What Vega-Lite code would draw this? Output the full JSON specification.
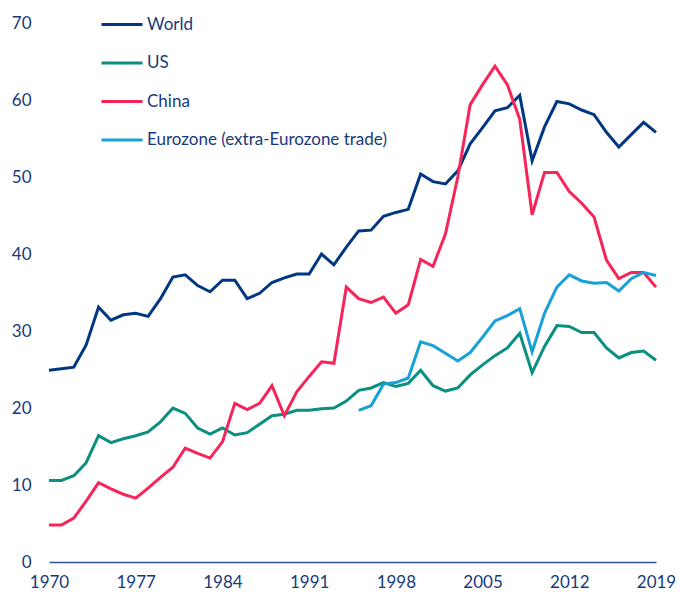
{
  "$schema": "https://vega.github.io/schema/vega-lite/v6.json",
  "width": 607,
  "height": 539,
  "autosize": {"type": "none"},
  "padding": {"left": 49, "top": 23, "right": 24, "bottom": 35},
  "background": "white",
  "config": {
    "view": {"stroke": null},
    "font": "Lato",
    "axis": {"labelFont": "Lato", "labelFontSize": 17, "labelColor": "#173a7c", "grid": false, "ticks": false, "tickSize": 0, "title": null}
  },
  "data": {"values": [
    {"year":1970,"series":"World","value":24.9},{"year":1971,"series":"World","value":25.1},{"year":1972,"series":"World","value":25.3},{"year":1973,"series":"World","value":28.2},{"year":1974,"series":"World","value":33.1},{"year":1975,"series":"World","value":31.4},{"year":1976,"series":"World","value":32.1},{"year":1977,"series":"World","value":32.3},{"year":1978,"series":"World","value":31.9},{"year":1979,"series":"World","value":34.2},{"year":1980,"series":"World","value":37.0},{"year":1981,"series":"World","value":37.3},{"year":1982,"series":"World","value":35.9},{"year":1983,"series":"World","value":35.1},{"year":1984,"series":"World","value":36.6},{"year":1985,"series":"World","value":36.6},{"year":1986,"series":"World","value":34.2},{"year":1987,"series":"World","value":34.9},{"year":1988,"series":"World","value":36.3},{"year":1989,"series":"World","value":36.9},{"year":1990,"series":"World","value":37.4},{"year":1991,"series":"World","value":37.4},{"year":1992,"series":"World","value":40.0},{"year":1993,"series":"World","value":38.6},{"year":1994,"series":"World","value":40.9},{"year":1995,"series":"World","value":43.0},{"year":1996,"series":"World","value":43.1},{"year":1997,"series":"World","value":44.9},{"year":1998,"series":"World","value":45.4},{"year":1999,"series":"World","value":45.8},{"year":2000,"series":"World","value":50.4},{"year":2001,"series":"World","value":49.4},{"year":2002,"series":"World","value":49.1},{"year":2003,"series":"World","value":50.8},{"year":2004,"series":"World","value":54.3},{"year":2005,"series":"World","value":56.4},{"year":2006,"series":"World","value":58.6},{"year":2007,"series":"World","value":59.0},{"year":2008,"series":"World","value":60.6},{"year":2009,"series":"World","value":52.1},{"year":2010,"series":"World","value":56.5},{"year":2011,"series":"World","value":59.8},{"year":2012,"series":"World","value":59.5},{"year":2013,"series":"World","value":58.7},{"year":2014,"series":"World","value":58.1},{"year":2015,"series":"World","value":55.8},{"year":2016,"series":"World","value":53.9},{"year":2017,"series":"World","value":55.5},{"year":2018,"series":"World","value":57.1},{"year":2019,"series":"World","value":55.8},
    {"year":1970,"series":"US","value":10.6},{"year":1971,"series":"US","value":10.6},{"year":1972,"series":"US","value":11.2},{"year":1973,"series":"US","value":12.9},{"year":1974,"series":"US","value":16.4},{"year":1975,"series":"US","value":15.5},{"year":1976,"series":"US","value":16.0},{"year":1977,"series":"US","value":16.4},{"year":1978,"series":"US","value":16.9},{"year":1979,"series":"US","value":18.2},{"year":1980,"series":"US","value":20.0},{"year":1981,"series":"US","value":19.3},{"year":1982,"series":"US","value":17.4},{"year":1983,"series":"US","value":16.6},{"year":1984,"series":"US","value":17.4},{"year":1985,"series":"US","value":16.5},{"year":1986,"series":"US","value":16.8},{"year":1987,"series":"US","value":17.9},{"year":1988,"series":"US","value":19.0},{"year":1989,"series":"US","value":19.2},{"year":1990,"series":"US","value":19.7},{"year":1991,"series":"US","value":19.7},{"year":1992,"series":"US","value":19.9},{"year":1993,"series":"US","value":20.0},{"year":1994,"series":"US","value":20.9},{"year":1995,"series":"US","value":22.3},{"year":1996,"series":"US","value":22.6},{"year":1997,"series":"US","value":23.3},{"year":1998,"series":"US","value":22.8},{"year":1999,"series":"US","value":23.2},{"year":2000,"series":"US","value":24.9},{"year":2001,"series":"US","value":22.9},{"year":2002,"series":"US","value":22.2},{"year":2003,"series":"US","value":22.6},{"year":2004,"series":"US","value":24.3},{"year":2005,"series":"US","value":25.6},{"year":2006,"series":"US","value":26.8},{"year":2007,"series":"US","value":27.8},{"year":2008,"series":"US","value":29.7},{"year":2009,"series":"US","value":24.6},{"year":2010,"series":"US","value":28.0},{"year":2011,"series":"US","value":30.7},{"year":2012,"series":"US","value":30.6},{"year":2013,"series":"US","value":29.8},{"year":2014,"series":"US","value":29.8},{"year":2015,"series":"US","value":27.8},{"year":2016,"series":"US","value":26.5},{"year":2017,"series":"US","value":27.2},{"year":2018,"series":"US","value":27.4},{"year":2019,"series":"US","value":26.2},
    {"year":1970,"series":"China","value":4.8},{"year":1971,"series":"China","value":4.8},{"year":1972,"series":"China","value":5.7},{"year":1973,"series":"China","value":7.9},{"year":1974,"series":"China","value":10.3},{"year":1975,"series":"China","value":9.5},{"year":1976,"series":"China","value":8.8},{"year":1977,"series":"China","value":8.3},{"year":1978,"series":"China","value":9.6},{"year":1979,"series":"China","value":11.0},{"year":1980,"series":"China","value":12.3},{"year":1981,"series":"China","value":14.8},{"year":1982,"series":"China","value":14.1},{"year":1983,"series":"China","value":13.5},{"year":1984,"series":"China","value":15.6},{"year":1985,"series":"China","value":20.6},{"year":1986,"series":"China","value":19.8},{"year":1987,"series":"China","value":20.6},{"year":1988,"series":"China","value":22.9},{"year":1989,"series":"China","value":19.0},{"year":1990,"series":"China","value":22.1},{"year":1991,"series":"China","value":24.1},{"year":1992,"series":"China","value":26.0},{"year":1993,"series":"China","value":25.8},{"year":1994,"series":"China","value":35.7},{"year":1995,"series":"China","value":34.2},{"year":1996,"series":"China","value":33.7},{"year":1997,"series":"China","value":34.4},{"year":1998,"series":"China","value":32.3},{"year":1999,"series":"China","value":33.4},{"year":2000,"series":"China","value":39.3},{"year":2001,"series":"China","value":38.4},{"year":2002,"series":"China","value":42.6},{"year":2003,"series":"China","value":50.0},{"year":2004,"series":"China","value":59.4},{"year":2005,"series":"China","value":62.0},{"year":2006,"series":"China","value":64.4},{"year":2007,"series":"China","value":62.0},{"year":2008,"series":"China","value":57.5},{"year":2009,"series":"China","value":45.1},{"year":2010,"series":"China","value":50.6},{"year":2011,"series":"China","value":50.6},{"year":2012,"series":"China","value":48.1},{"year":2013,"series":"China","value":46.6},{"year":2014,"series":"China","value":44.8},{"year":2015,"series":"China","value":39.2},{"year":2016,"series":"China","value":36.8},{"year":2017,"series":"China","value":37.6},{"year":2018,"series":"China","value":37.6},{"year":2019,"series":"China","value":35.7},
    {"year":1995,"series":"Eurozone (extra-Eurozone trade)","value":19.7},{"year":1996,"series":"Eurozone (extra-Eurozone trade)","value":20.3},{"year":1997,"series":"Eurozone (extra-Eurozone trade)","value":23.1},{"year":1998,"series":"Eurozone (extra-Eurozone trade)","value":23.3},{"year":1999,"series":"Eurozone (extra-Eurozone trade)","value":23.9},{"year":2000,"series":"Eurozone (extra-Eurozone trade)","value":28.6},{"year":2001,"series":"Eurozone (extra-Eurozone trade)","value":28.1},{"year":2002,"series":"Eurozone (extra-Eurozone trade)","value":27.1},{"year":2003,"series":"Eurozone (extra-Eurozone trade)","value":26.1},{"year":2004,"series":"Eurozone (extra-Eurozone trade)","value":27.2},{"year":2005,"series":"Eurozone (extra-Eurozone trade)","value":29.2},{"year":2006,"series":"Eurozone (extra-Eurozone trade)","value":31.3},{"year":2007,"series":"Eurozone (extra-Eurozone trade)","value":32.0},{"year":2008,"series":"Eurozone (extra-Eurozone trade)","value":32.9},{"year":2009,"series":"Eurozone (extra-Eurozone trade)","value":27.3},{"year":2010,"series":"Eurozone (extra-Eurozone trade)","value":32.3},{"year":2011,"series":"Eurozone (extra-Eurozone trade)","value":35.7},{"year":2012,"series":"Eurozone (extra-Eurozone trade)","value":37.3},{"year":2013,"series":"Eurozone (extra-Eurozone trade)","value":36.5},{"year":2014,"series":"Eurozone (extra-Eurozone trade)","value":36.2},{"year":2015,"series":"Eurozone (extra-Eurozone trade)","value":36.3},{"year":2016,"series":"Eurozone (extra-Eurozone trade)","value":35.2},{"year":2017,"series":"Eurozone (extra-Eurozone trade)","value":36.8},{"year":2018,"series":"Eurozone (extra-Eurozone trade)","value":37.6},{"year":2019,"series":"Eurozone (extra-Eurozone trade)","value":37.2}
  ]},
  "mark": {"type": "line", "strokeWidth": 3, "strokeJoin": "miter", "strokeCap": "butt"},
  "encoding": {
    "x": {
      "field": "year", "type": "quantitative",
      "scale": {"domain": [1970, 2019], "nice": false, "zero": false},
      "axis": {"values": [1970, 1977, 1984, 1991, 1998, 2005, 2012, 2019], "format": "d", "domain": true, "domainColor": "#2f5294", "domainWidth": 1.5, "labelPadding": 12, "labelFlush": false}
    },
    "y": {
      "field": "value", "type": "quantitative",
      "scale": {"domain": [0, 70], "nice": false},
      "axis": {"values": [0, 10, 20, 30, 40, 50, 60, 70], "domain": false, "labelPadding": 18}
    },
    "color": {
      "field": "series", "type": "nominal",
      "scale": {"domain": ["World", "US", "China", "Eurozone (extra-Eurozone trade)"], "range": ["#003781", "#0a8f80", "#f62459", "#17a1d6"]},
      "legend": {
        "title": null, "orient": "none", "legendX": 51, "legendY": -20.5, "padding": 0,
        "symbolType": "stroke", "symbolSize": 1681, "symbolStrokeWidth": 3,
        "labelFont": "Lato", "labelFontSize": 17, "labelColor": "#173a7c", "labelOffset": 3,
        "labelLimit": 0, "rowPadding": 8.5
      }
    },
    "detail": {"field": "series"}
  }
}
